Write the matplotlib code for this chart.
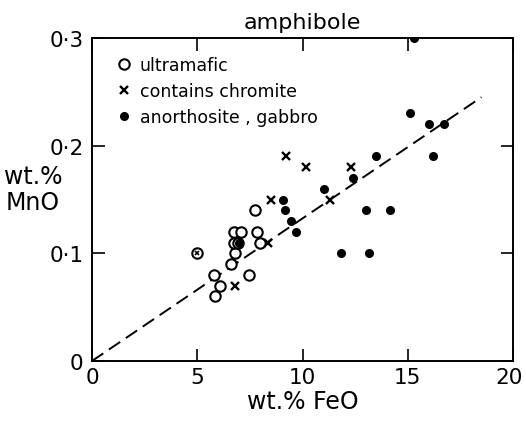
import matplotlib
matplotlib.use("Agg")
import matplotlib.pyplot as plt
import matplotlib.transforms as mtransforms
from matplotlib.lines import Line2D

# wt.% FeO / wt.% MnO
ultramafic_feo = [5.8, 5.85, 6.1, 6.6, 6.8, 6.75, 6.75, 7.1, 6.95, 7.45, 7.75, 7.85, 8.0]
ultramafic_mno = [0.08, 0.06, 0.07, 0.09, 0.10, 0.11, 0.12, 0.12, 0.11, 0.08, 0.14, 0.12, 0.11]

# sample plotted as a circle with a cross inside
mixed_feo = [5.0]
mixed_mno = [0.10]

chromite_feo = [6.8, 8.35, 8.5, 9.2, 10.15, 11.3, 12.3]
chromite_mno = [0.07, 0.11, 0.15, 0.19, 0.18, 0.15, 0.18]

gabbro_feo = [7.0, 9.05, 9.15, 9.45, 9.7, 11.0, 12.4, 11.85, 13.15, 13.0, 14.15,
              13.5, 15.1, 16.0, 16.7, 16.2, 15.3]
gabbro_mno = [0.11, 0.15, 0.14, 0.13, 0.12, 0.16, 0.17, 0.10, 0.10, 0.14, 0.14,
              0.19, 0.23, 0.22, 0.22, 0.19, 0.30]

trend_feo = [0.0, 18.5]
trend_mno = [0.0, 0.245]

x_ticks = [0, 5, 10, 15, 20]
y_ticks = [0, 0.1, 0.2, 0.3]
y_ticklabels = ["0", "0\u00b71", "0\u00b72", "0\u00b73"]

plt.rcParams["font.family"] = ["DejaVu Sans"]

fig = plt.figure(figsize=(5.26, 4.35), dpi=100)
ax = fig.add_axes([92 / 526, 1 - 362 / 435, 421 / 526, 323 / 435])

open_kw = dict(marker="o", mfc="white", mec="black", mew=1.5, ms=7.5, ls="none")
cross_kw = dict(marker="x", color="black", mew=1.7, ms=6, ls="none")
dot_kw = dict(marker="o", color="black", ms=5.5, ls="none")

ax.plot(trend_feo, trend_mno, color="black", lw=1.4, dashes=(7, 3.5), zorder=1)
ax.plot(ultramafic_feo, ultramafic_mno, zorder=2, **open_kw)
ax.plot(mixed_feo, mixed_mno, zorder=2, **open_kw)
ax.plot(mixed_feo, mixed_mno, marker="x", color="black", mew=1.2, ms=3, ls="none", zorder=3)
ax.plot(chromite_feo, chromite_mno, zorder=3, **cross_kw)
ax.plot(gabbro_feo, gabbro_mno, zorder=3, **dot_kw)

ax.set_xlim(0, 20)
ax.set_ylim(0, 0.3)
ax.set_xticks(x_ticks)
ax.set_yticks(y_ticks)
ax.set_yticklabels(y_ticklabels)
ax.tick_params(direction="in", length=9, width=1.2, top=True, right=True,
               labelsize=15.5)
ax.tick_params(axis="y", pad=6)
ax.tick_params(axis="x", pad=4)
for s in ax.spines.values():
    s.set_linewidth(1.4)

# keep the "20" label inside the canvas
last = ax.get_xticklabels()[-1]
last.set_transform(last.get_transform() + mtransforms.ScaledTranslation(-4 / 100, 0, fig.dpi_scale_trans))

handles = [Line2D([], [], **open_kw), Line2D([], [], **cross_kw), Line2D([], [], **dot_kw)]
ax.legend(handles, ["ultramafic", "contains chromite", "anorthosite , gabbro"],
          loc="upper left", bbox_to_anchor=(0.035, 0.975), frameon=False,
          fontsize=12.5, handlelength=0.8, handletextpad=0.5, labelspacing=0.45,
          borderaxespad=0.2)

ax.set_title("amphibole", fontsize=16, pad=7)
ax.set_xlabel("wt.% FeO", fontsize=17, labelpad=2)
fig.text(33 / 526, 1 - 190 / 435, "wt.%\nMnO", fontsize=17, ha="center", va="center",
         linespacing=1.15)

fig.savefig("out.png", dpi=100)
